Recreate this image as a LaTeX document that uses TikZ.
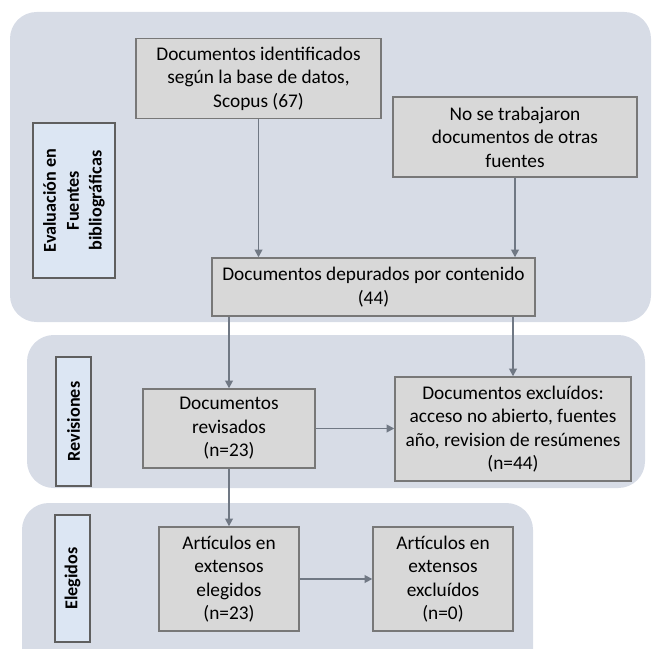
\documentclass[tikz,border=0pt]{standalone}
\usepackage{fontspec}
\setmainfont{Carlito}
\usetikzlibrary{arrows.meta}

\definecolor{panelfill}{RGB}{215,220,230}
\definecolor{boxfill}{RGB}{216,216,216}
\definecolor{boxline}{RGB}{120,120,120}
\definecolor{labelfill}{RGB}{220,230,243}
\definecolor{labelline}{RGB}{95,95,95}
\definecolor{arrowcol}{RGB}{112,120,132}

\tikzset{
  panel/.style={fill=panelfill, rounded corners=0.8cm},
  stagebox/.style={draw=boxline, fill=boxfill, line width=1.2pt, align=center,
    inner sep=2pt, font=\fontsize{16.5}{20}\selectfont},
  phaselabel/.style={draw=labelline, fill=labelfill, line width=1.2pt, rotate=90,
    align=center, inner sep=2pt, font=\fontsize{15.5}{18}\selectfont\bfseries},
  flow/.style={draw=arrowcol, line width=1.4pt, -{Triangle[width=6.5pt,length=6.5pt]}}
}

\begin{document}
\begin{tikzpicture}[x=0.03cm, y=-0.03cm]
    \useasboundingbox (0,0) rectangle (654,648);
    \clip (0,0) rectangle (654,648);

    % panels
    \fill[panel] (10,12) rectangle (651,322);
    \fill[panel] (27,335) rectangle (645,488);
    \fill[panel] (22,503) rectangle (533,680);

    % phase labels
    \node[phaselabel, minimum width=4.65cm, minimum height=2.46cm] (lblfuentes) at (74,200.5)
        {Evaluación en\\[1.5pt]Fuentes\\[1.5pt]bibliográficas};
    \node[phaselabel, minimum width=3.87cm, minimum height=1.05cm] (lblrevision) at (73.5,421.5) {Revisiones};
    \node[phaselabel, minimum width=3.81cm, minimum height=1.05cm] (lblelegidos) at (72.5,578.5) {Elegidos};

    % boxes
    \node[stagebox, minimum width=7.35cm, minimum height=2.4cm] (ident) at (258.5,78.5)
        {Documentos identificados\\según la base de datos,\\Scopus (67)};
    \node[stagebox, minimum width=7.32cm, minimum height=2.4cm] (otras) at (515,137)
        {No se trabajaron\\documentos de otras\\fuentes};
    \node[stagebox, minimum width=9.69cm, minimum height=1.74cm] (depur) at (373.5,287)
        {Documentos depurados por contenido\\(44)};
    \node[stagebox, minimum width=5.16cm, minimum height=2.37cm] (revis) at (229,428.5)
        {Documentos\\revisados\\(n=23)};
    \node[stagebox, minimum width=7.08cm, minimum height=3.12cm] (exclu) at (513,429)
        {Documentos excluídos:\\acceso no abierto, fuentes\\año, revision de resúmenes\\(n=44)};
    \node[stagebox, minimum width=4.2cm, minimum height=3.12cm] (elegi) at (229,579)
        {Artículos en\\extensos\\elegidos\\(n=23)};
    \node[stagebox, minimum width=4.2cm, minimum height=3.12cm] (descart) at (443,579)
        {Artículos en\\extensos\\excluídos\\(n=0)};

    % connectors
    \draw[flow] (ident.south) -- (ident.south |- depur.north);
    \draw[flow] (otras.south) -- (otras.south |- depur.north);
    \draw[flow] (revis.north |- depur.south) -- (revis.north);
    \draw[flow] (exclu.north |- depur.south) -- (exclu.north);
    \draw[flow] (revis.east) -- (revis.east -| exclu.west);
    \draw[flow] (revis.south) -- (elegi.north);
    \draw[flow] (elegi.east) -- (descart.west);
\end{tikzpicture}
\end{document}
